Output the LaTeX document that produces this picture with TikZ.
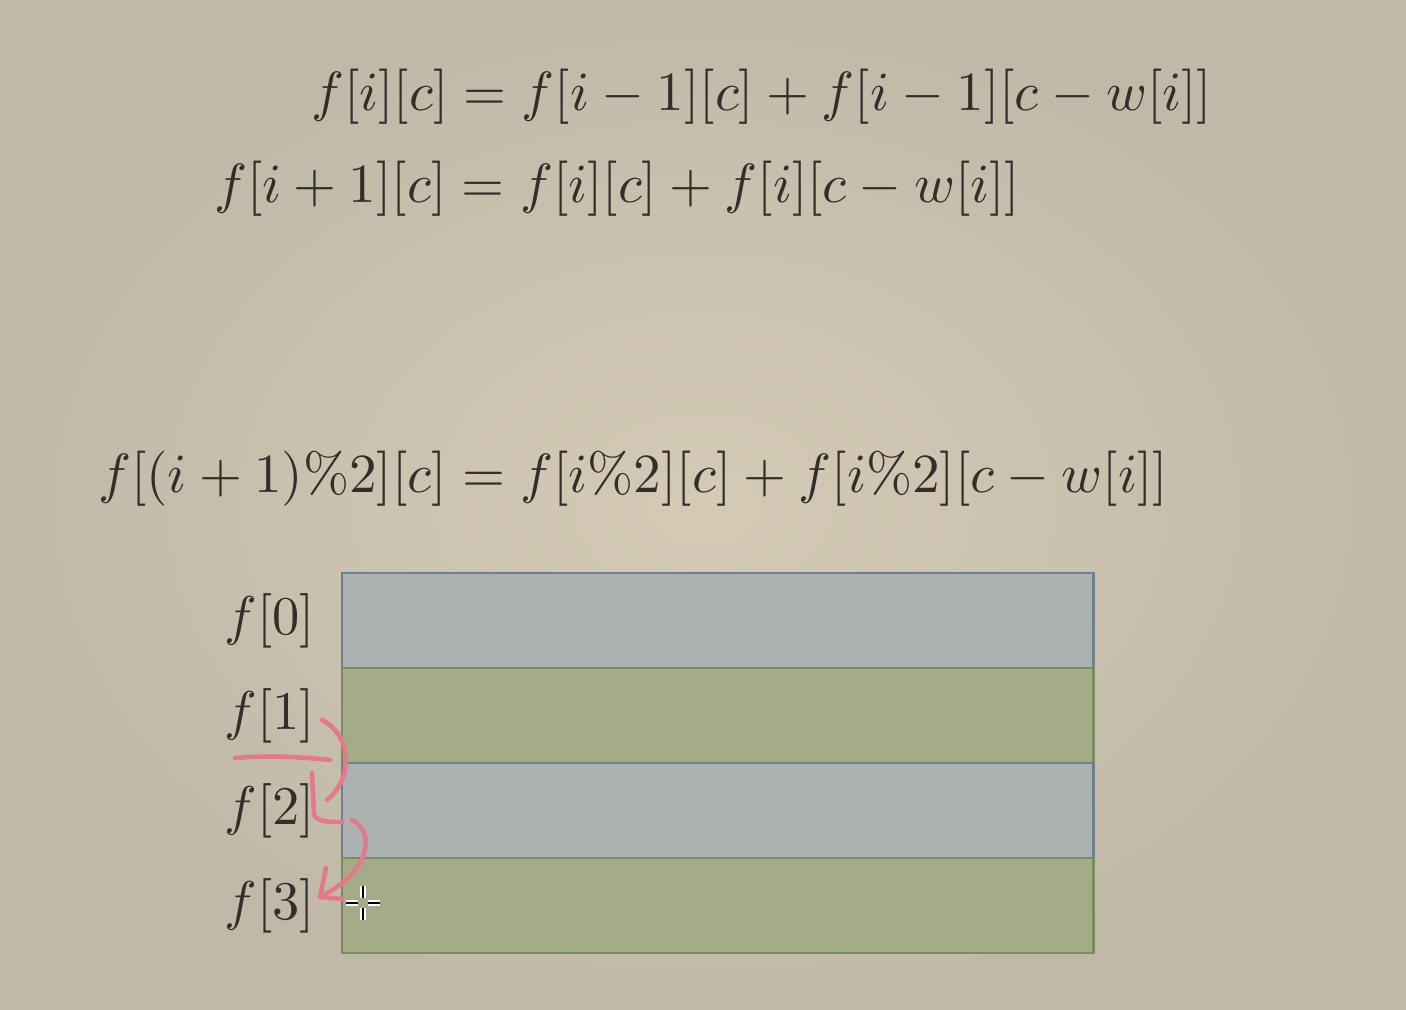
\documentclass[tikz,border=0pt]{standalone}
\usetikzlibrary{positioning}

\definecolor{bgin}{RGB}{212,202,182}
\definecolor{bgout}{RGB}{193,185,168}
\definecolor{rowblue}{RGB}{172,178,178}
\definecolor{rowgreen}{RGB}{164,171,137}
\definecolor{edgeblue}{RGB}{112,128,142}
\definecolor{edgegreen}{RGB}{122,142,92}
\definecolor{ink}{RGB}{50,46,42}
\definecolor{pen}{RGB}{226,122,138}

\tikzset{
  eq/.style={inner sep=0pt, text=ink, anchor=base west, scale=1.57, transform shape},
  row/.style={draw, minimum width=7.51cm, minimum height=0.95cm, inner sep=0pt, outer sep=0pt, line width=0.6pt},
  lab/.style={text=ink, inner sep=0pt, scale=1.55, transform shape},
  stroke/.style={draw=pen, line width=1.3pt, line cap=round, line join=round},
}

\begin{document}
\begin{tikzpicture}[x=0.01cm, y=-0.01cm]

  \useasboundingbox (0,0) rectangle (1406,1010);
  \shade[inner color=bgin, outer color=bgout] (0,0) rectangle (1406,1010);

  % recurrences
  \node[eq] (eqa) at (310,111) {$f[i][c] = f[i-1][c] + f[i-1][c-w[i]]$};
  \node[eq] (eqb) at (213,203) {$f[i+1][c] = f[i][c] + f[i][c-w[i]]$};
  \node[eq] (eqc) at (97,493) {$f[(i+1)\%2][c] = f[i\%2][c] + f[i\%2][c-w[i]]$};

  % rolling array
  \node[row, fill=rowblue, draw=edgeblue, anchor=north west] (row0) at (342,573) {};
  \node[row, fill=rowgreen, draw=edgegreen, below=0pt of row0] (row1) {};
  \node[row, fill=rowblue, draw=edgeblue, below=0pt of row1] (row2) {};
  \node[row, fill=rowgreen, draw=edgegreen, below=0pt of row2] (row3) {};

  \node[lab, left=0.26cm of row0] (lab0) {$f[0]$};
  \node[lab, left=0.26cm of row1] (lab1) {$f[1]$};
  \node[lab, left=0.26cm of row2] (lab2) {$f[2]$};
  \node[lab, left=0.26cm of row3] (lab3) {$f[3]$};

  % pen marks
  \draw[stroke] (235,758) .. controls (270,755) and (300,757) .. (330,760);
  \draw[stroke] (322,720) .. controls (352,735) and (354,778) .. (327,800);
  \draw[stroke] (312,773) -- (314,815) .. controls (318,822) and (330,822) .. (342,822);
  \draw[stroke] (352,820) .. controls (374,830) and (374,870) .. (320,897);
  \draw[stroke] (326,868) -- (320,897) -- (342,899);

  % cursor
  \draw[white, line width=1.6pt] (346,903) -- (358,903) (368,903) -- (380,903)
    (363,886) -- (363,898) (363,908) -- (363,920);
  \draw[black, line width=0.6pt] (346,903) -- (358,903) (368,903) -- (380,903)
    (363,886) -- (363,898) (363,908) -- (363,920);

\end{tikzpicture}
\end{document}
